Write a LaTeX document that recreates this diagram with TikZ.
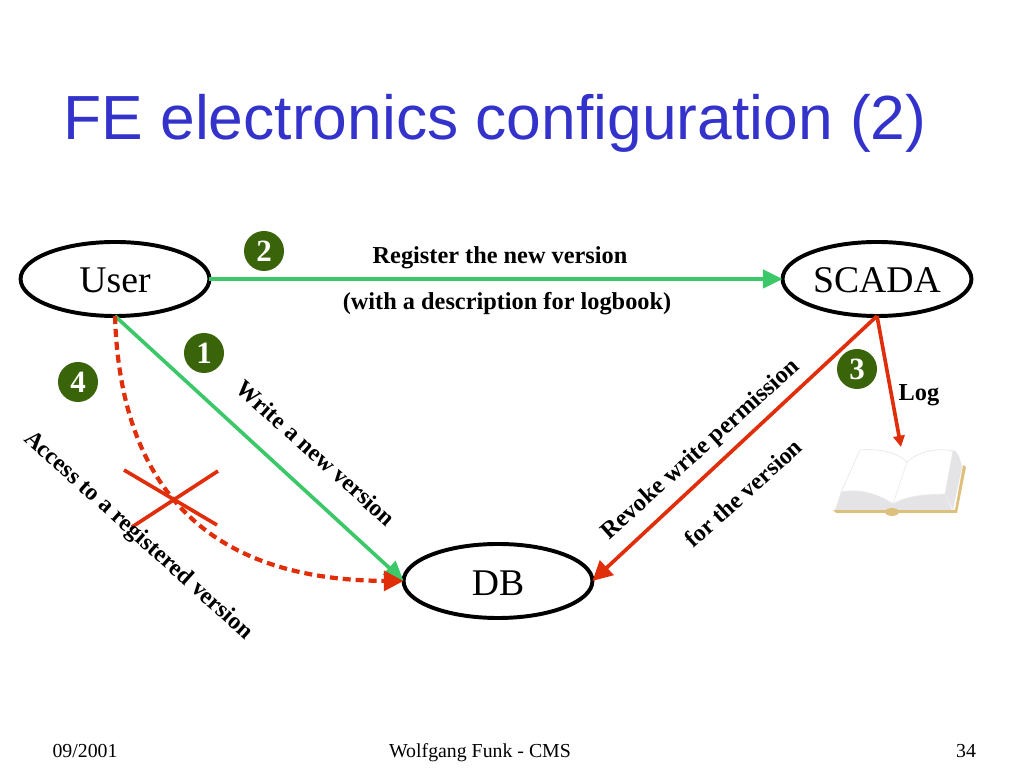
\documentclass[tikz,border=0pt]{standalone}
\usepackage{fontspec}
\setmainfont{Liberation Serif}
\newfontfamily\titlefont{Liberation Sans}
\usetikzlibrary{positioning,arrows.meta,calc,shapes.geometric}
\definecolor{titleblue}{RGB}{51,51,204}
\definecolor{badgegreen}{RGB}{58,100,10}
\definecolor{linegreen}{RGB}{60,200,105}
\definecolor{linered}{RGB}{224,45,10}
\definecolor{covertan}{RGB}{222,192,125}
\definecolor{pagegray}{RGB}{228,228,230}
\definecolor{pageline}{RGB}{232,232,236}
\tikzset{
    actor/.style={draw=black, fill=white, ellipse, line width=2.8pt, minimum width=4.72cm, minimum height=1.85cm, inner sep=0pt, outer sep=0pt, text height=20pt, font=\fontsize{26.8}{29}\selectfont},
    badge/.style={circle, fill=badgegreen, text=white, minimum size=1cm, inner sep=0pt, font=\fontsize{22}{24}\selectfont\bfseries},
    note/.style={font=\fontsize{17.3}{19}\selectfont\bfseries, inner sep=0pt},
    slanted/.style={font=\fontsize{17}{19}\selectfont\bfseries, inner sep=0pt},
    foot/.style={font=\fontsize{14.1}{16}\selectfont, inner sep=0pt, anchor=base},
    goarrow/.style={-{Triangle[length=14pt,width=13pt]}, line width=2.6pt, draw=linegreen},
    stoparrow/.style={-{Triangle[length=14pt,width=14pt]}, line width=2.6pt, draw=linered},
    logarrow/.style={-{Triangle[length=8pt,width=8pt]}, line width=2.6pt, draw=linered},
    crossline/.style={line width=2.6pt, draw=linered}
}
\begin{document}
\begin{tikzpicture}[x=0.025cm,y=0.025cm]
\useasboundingbox (0,0) rectangle (1024,768);
\node[font=\fontsize{44.35}{48}\selectfont\titlefont, text=titleblue, inner sep=0pt] (title) at (495,645) {FE electronics configuration (2)};
\node[actor] (user) at (115,489) {User};
\node[actor] (scada) at (877,489) {SCADA};
\node[actor] (db) at (498,187) {DB};
\coordinate (logend) at (901,321);
\draw[goarrow] (user.east) -- (scada.west);
\draw[goarrow] (user.south) -- (db.west);
\draw[stoparrow] (scada.south) -- (db.east);
\draw[logarrow] (scada.south) -- (logend);
\draw[stoparrow, line width=3pt, dash pattern=on 5.7pt off 3.5pt] (user.south) .. controls (120,288) and (200,188) .. (db.west);
\draw[crossline] (124,298) -- (217,243);
\draw[crossline] (218,297) -- (132,241);
\node[badge] (two) at (264,517) {2};
\node[badge] (one) at (204,415) {1};
\node[badge] (four) at (78,386) {4};
\node[badge] (three) at (857,399) {3};
\node[note] (register) at (500,510) {Register the new version};
\node[note] (logbook) at (507,464) {(with a description for logbook)};
\node[slanted, rotate=-42] (write) at (316,315) {Write a new version};
\node[slanted, rotate=-42] (access) at (138,232) {Access to a registered version};
\node[note, rotate=42] (revoke) at (701,318) {Revoke write permission};
\node[slanted, rotate=42] (forversion) at (743,275) {for the version};
\node[note] (log) at (919,373) {Log};
\fill[covertan] (833,258) -- (836,255) -- (957,255) -- (966,301) -- (963,303) -- (955,258) -- cycle;
\fill[pagegray] (835,258) -- (841,276) .. controls (860,280) and (880,273) .. (893,264) .. controls (910,274) and (930,273) .. (945,274) -- (952,258) -- (893,258) -- cycle;
\fill[pagegray] (945,274) -- (953,318) .. controls (958,317) and (960,310) .. (962,301) -- (953,258) -- cycle;
\draw[pageline, fill=white, line width=0.5pt] (841,276) -- (860,318) .. controls (880,320) and (898,315) .. (907,306) .. controls (920,318) and (940,320) .. (953,317) -- (945,274) .. controls (930,273) and (910,274) .. (893,264) .. controls (880,273) and (860,280) .. (841,276) -- cycle;
\draw[pageline, line width=0.4pt] (907,306) -- (893,264);
\fill[covertan] (892,256) ellipse (7 and 4);
\node[foot] (date) at (85,10) {09/2001};
\node[foot] (author) at (480,10) {Wolfgang Funk - CMS};
\node[foot] (page) at (966,10) {34};
\end{tikzpicture}
\end{document}
